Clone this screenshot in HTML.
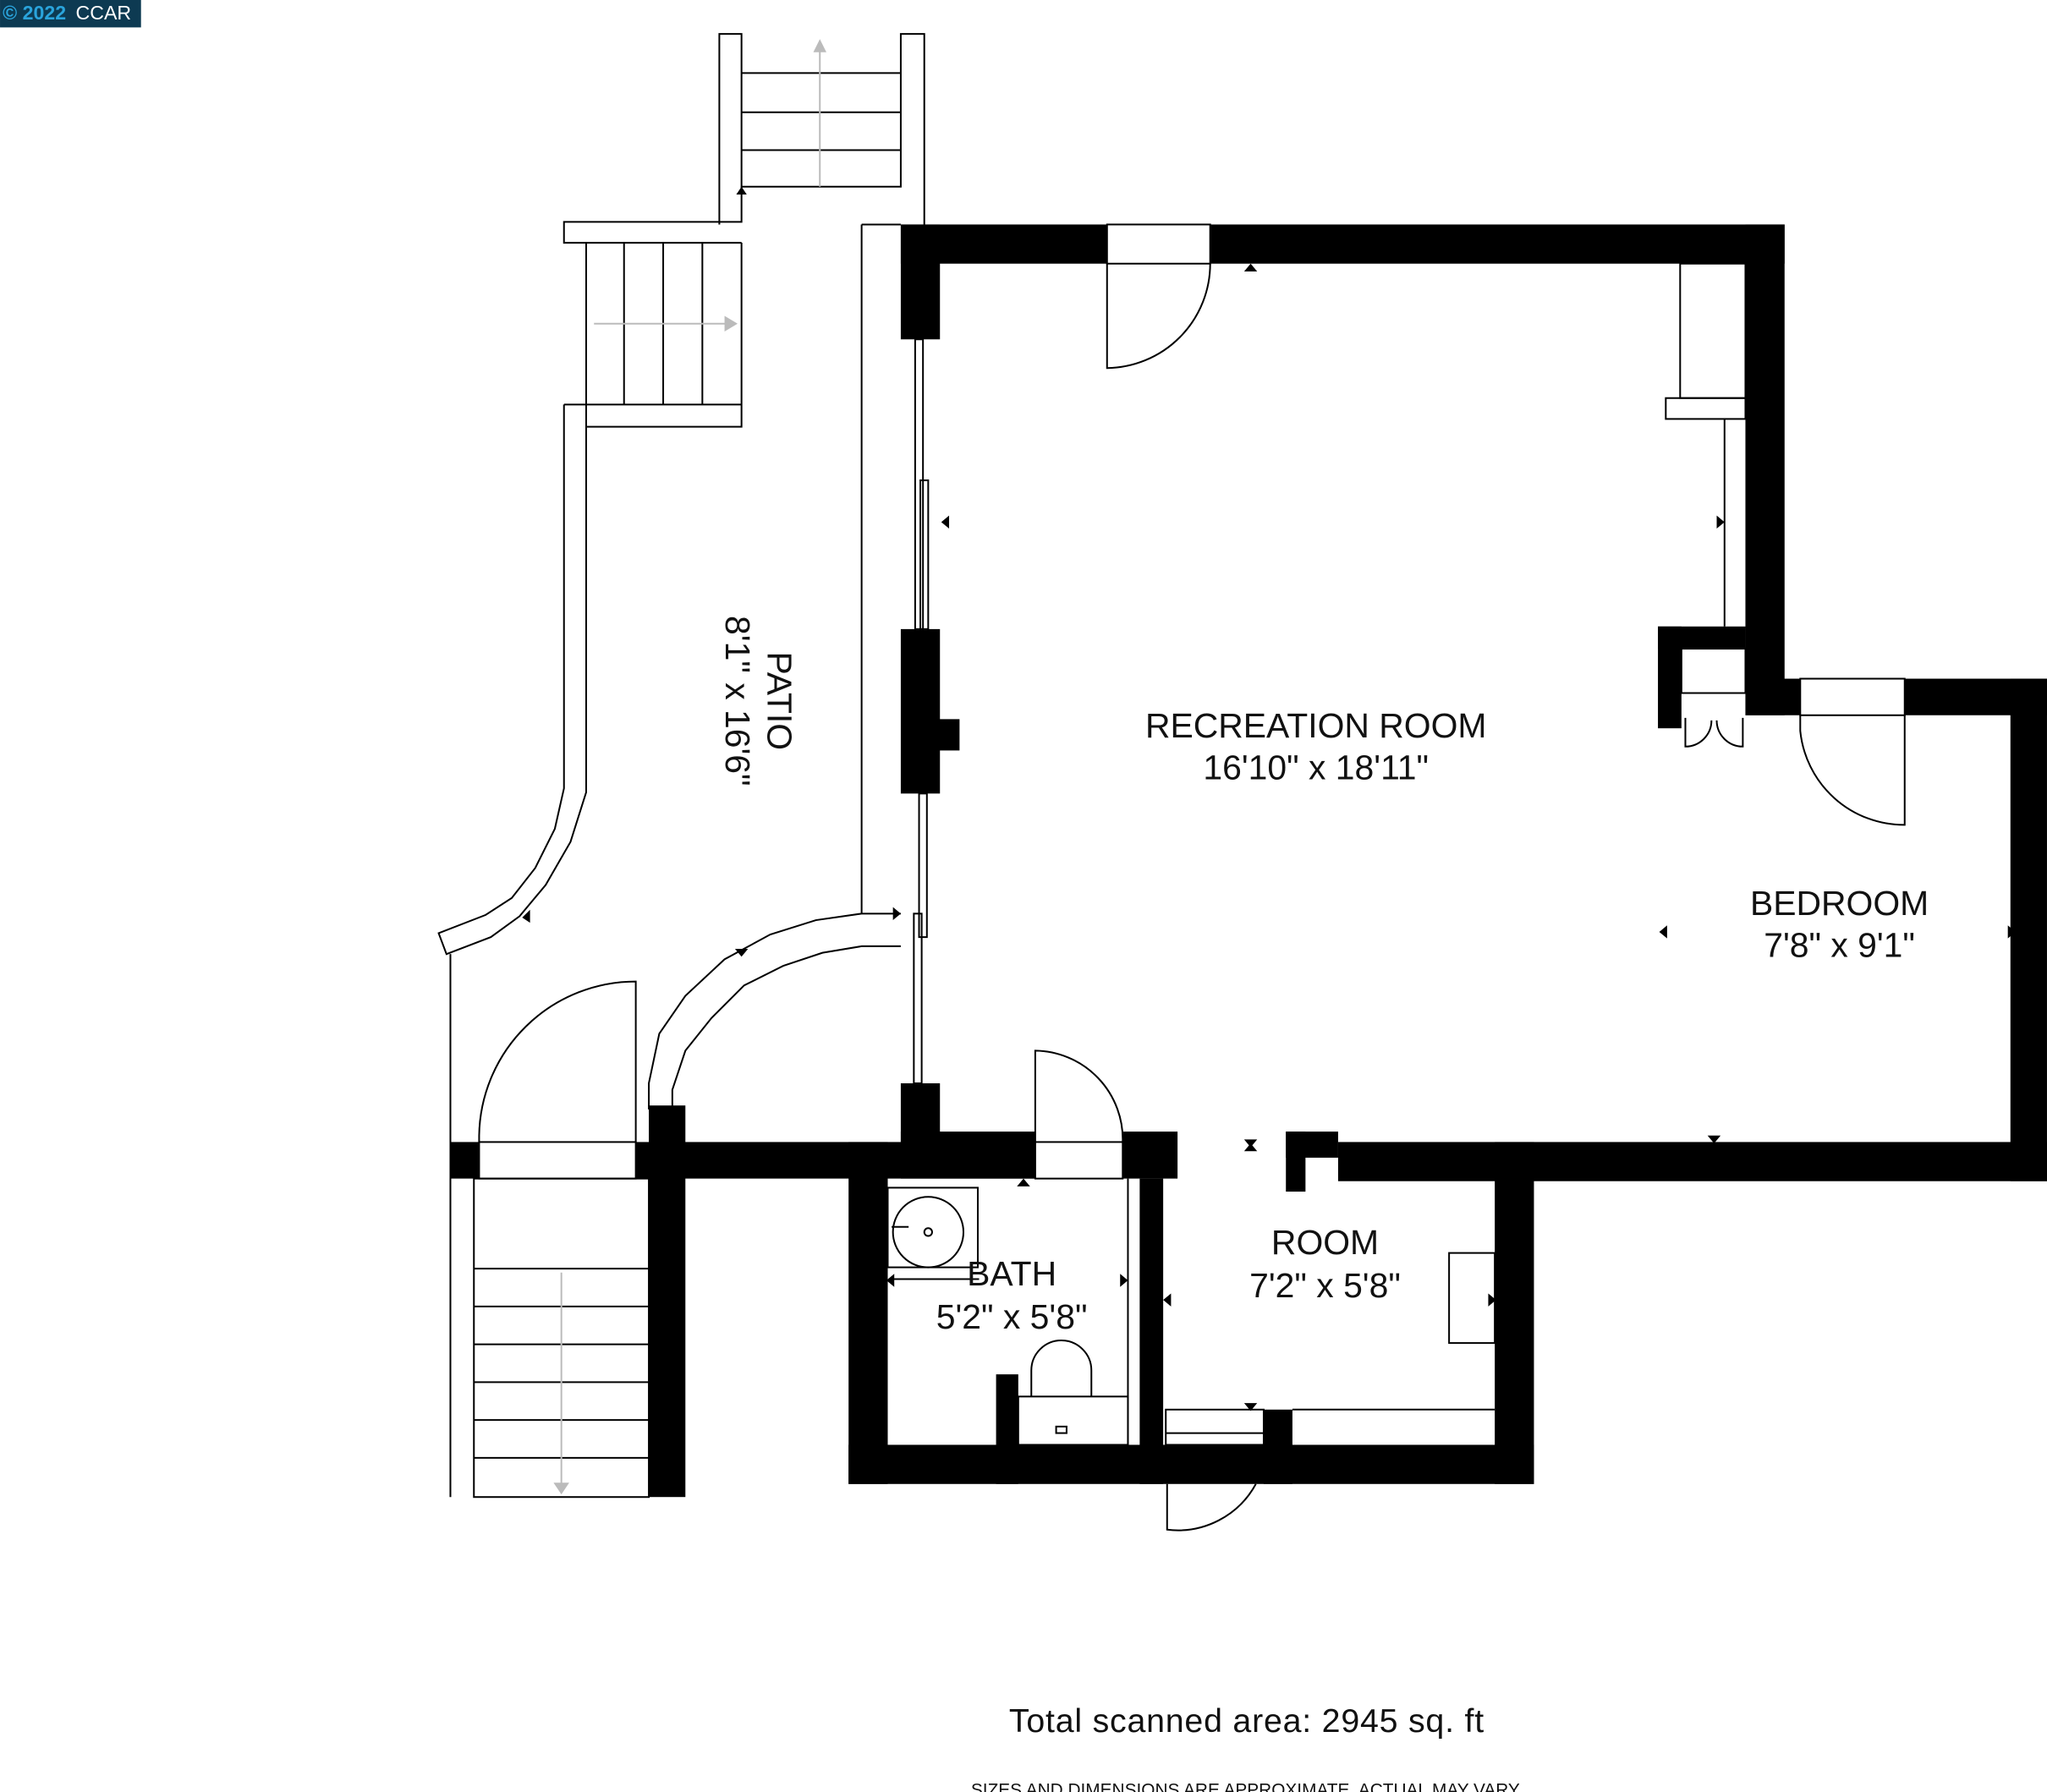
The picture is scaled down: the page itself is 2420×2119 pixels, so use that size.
<!DOCTYPE html>
<html><head><meta charset="utf-8"><style>
html,body{margin:0;padding:0;background:#fff;}
svg{display:block;}
</style></head><body>
<svg width="2420" height="2119" viewBox="0 0 1568 1373" xmlns="http://www.w3.org/2000/svg" font-family="Liberation Sans, sans-serif">
<rect width="1568" height="1373" fill="#fff"/>
<!-- badge -->
<rect x="0" y="0" width="108" height="21" fill="#0d3a52"/>
<text x="2" y="15" font-size="15" font-weight="bold" fill="#2aa4dc">© 2022</text>
<text x="58" y="15" font-size="15" fill="#fff">CCAR</text>

<g fill="#000">
<rect x="690" y="172" width="158" height="30"/><rect x="927" y="172" width="440" height="30"/>
<rect x="690" y="172" width="30" height="88"/>
<rect x="690" y="482" width="30" height="126"/><rect x="718" y="551" width="17" height="24"/>
<rect x="690" y="830" width="30" height="45"/>
<rect x="1337" y="172" width="30" height="376"/>
<rect x="1337" y="520" width="42" height="28"/><rect x="1459" y="520" width="109" height="28"/>
<rect x="1540" y="520" width="28" height="385"/>
<rect x="1025" y="875" width="543" height="30"/>
<rect x="985" y="867" width="40" height="20"/><rect x="985" y="867" width="15" height="46"/>
<rect x="1145" y="875" width="30" height="262"/>
<rect x="1270" y="480" width="67" height="17"/><rect x="1270" y="480" width="18" height="78"/>
<rect x="345" y="875" width="22" height="28"/>
<rect x="487" y="875" width="306" height="28"/>
<rect x="497" y="847" width="28" height="300"/>
<rect x="690" y="867" width="103" height="36"/>
<rect x="860" y="867" width="42" height="36"/>
<rect x="650" y="875" width="30" height="262"/>
<rect x="650" y="1107" width="525" height="30"/>
<rect x="873" y="903" width="18" height="234"/>
<rect x="763" y="1053" width="17" height="84"/>
<rect x="968" y="1080" width="22" height="57"/>
</g>

<g fill="none" stroke="#000" stroke-width="1.3">
<!-- top stairs -->
<polyline points="551,172 551,26 568,26 568,143 690,143 690,26 708,26 708,172"/>
<line x1="568" y1="56" x2="690" y2="56"/><line x1="568" y1="86" x2="690" y2="86"/><line x1="568" y1="115" x2="690" y2="115"/>
<line x1="628" y1="36" x2="628" y2="143" stroke="#bbb"/>
<!-- left small stairs -->
<polyline points="568,143 568,170 432,170 432,186 568,186"/>
<polyline points="568,186 568,327 449,327 449,186"/>
<line x1="478" y1="186" x2="478" y2="310"/><line x1="508" y1="186" x2="508" y2="310"/><line x1="538" y1="186" x2="538" y2="310"/>
<line x1="432" y1="310" x2="568" y2="310"/>
<line x1="455" y1="248" x2="560" y2="248" stroke="#bbb"/>
<!-- patio outer -->
<polyline points="432,310 432,604 425,635 410,665 392,688 372,701 336,715 342,731 376,718 398,702 418,678 437,645 449,607 449,327"/>
<line x1="345" y1="731" x2="345" y2="1147"/>
<line x1="660" y1="172" x2="660" y2="700"/><line x1="660" y1="172" x2="690" y2="172"/>
<polyline points="690,700 660,700 625,705 590,716 555,735 525,763 505,792 497,830 497,850"/>
<polyline points="690,725 660,725 630,730 600,740 570,755 545,780 525,805 515,835 515,850"/>
<!-- sliding windows -->
<rect x="701" y="260" width="6" height="222"/><rect x="705" y="368" width="6" height="114"/>
<rect x="704" y="608" width="6" height="110"/><rect x="700" y="700" width="6" height="130"/>
<!-- doors -->
<path d="M848,202 V282 A80,80 0 0 0 927,202"/><rect x="848" y="172" width="79" height="30" fill="#fff"/>
<rect x="1287" y="202" width="50" height="103"/><rect x="1276" y="305" width="61" height="16"/>
<line x1="1321" y1="321" x2="1321" y2="480"/>
<rect x="1288" y="497" width="49" height="34"/>
<path d="M1291,550 V572 A20,20 0 0 0 1311,552 M1335,550 V572 A20,20 0 0 1 1315,552"/>
<rect x="1379" y="520" width="80" height="28" fill="#fff"/>
<path d="M1379,548 V560 A80,80 0 0 0 1459,632 V548"/>
<path d="M367,875 V870 A120,120 0 0 1 487,752 V875"/>
<rect x="367" y="875" width="120" height="28" fill="#fff"/>
<path d="M793,875 V805 A68,68 0 0 1 860,875"/><rect x="793" y="875" width="67" height="28" fill="#fff"/>
<!-- bottom stairs -->
<rect x="363" y="903" width="134" height="244"/>
<line x1="363" y1="972" x2="497" y2="972"/><line x1="363" y1="1001" x2="497" y2="1001"/><line x1="363" y1="1030" x2="497" y2="1030"/><line x1="363" y1="1059" x2="497" y2="1059"/><line x1="363" y1="1088" x2="497" y2="1088"/><line x1="363" y1="1117" x2="497" y2="1117"/>
<line x1="430" y1="975" x2="430" y2="1140" stroke="#bbb"/>
<!-- bath fixtures -->
<rect x="680" y="910" width="69" height="61"/><circle cx="711" cy="944" r="27"/><circle cx="711" cy="944" r="3"/>
<line x1="683" y1="940" x2="696" y2="940"/>
<line x1="683" y1="980" x2="750" y2="980"/>
<path d="M790,1070 V1050 A23,23 0 0 1 836,1050 V1070"/><rect x="780" y="1070" width="84" height="37"/>
<rect x="809" y="1093" width="8" height="5"/>
<line x1="864" y1="903" x2="864" y2="1107"/>
<!-- room -->
<rect x="1110" y="960" width="35" height="69"/>
<line x1="990" y1="1080" x2="1145" y2="1080"/>
<rect x="893" y="1080" width="75" height="27"/>
<line x1="893" y1="1098" x2="968" y2="1098"/>
<path d="M894,1137 V1172 A68,68 0 0 0 962,1137"/>
</g>

<g fill="#000">
<polygon points="953,208 963,208 958,202"/><polygon points="727,395 727,405 721,400"/>
<polygon points="1315,395 1315,405 1321,400"/><polygon points="684,695 684,705 690,700"/>
<polygon points="563,727 573,727 568,733"/><polygon points="400,703 406,697 406,707"/>
<polygon points="1277,709 1277,719 1271,714"/><polygon points="1538,709 1538,719 1544,714"/>
<polygon points="1308,870 1318,870 1313,876"/><polygon points="953,873 963,873 958,879"/><polygon points="953,882 963,882 958,876"/>
<polygon points="779,909 789,909 784,903"/><polygon points="685,976 685,986 679,981"/><polygon points="858,976 858,986 864,981"/>
<polygon points="897,991 897,1001 891,996"/><polygon points="1140,991 1140,1001 1146,996"/><polygon points="953,1075 963,1075 958,1081"/>
<polygon points="564,149 572,149 568,143"/>
</g>
<polygon points="623,40 633,40 628,30" fill="#bbb"/><polygon points="555,242 555,254 565,248" fill="#bbb"/><polygon points="424,1136 436,1136 430,1145" fill="#bbb"/>

<g font-size="26.5" text-anchor="middle" fill="#111">
<text x="1008" y="565">RECREATION ROOM</text><text x="1008" y="597">16'10" x 18'11"</text>
<text x="1409" y="701">BEDROOM</text><text x="1409" y="733">7'8" x 9'1"</text>
<text x="1015" y="961">ROOM</text><text x="1015" y="994">7'2" x 5'8"</text>
<text x="775" y="985">BATH</text><text x="775" y="1018">5'2" x 5'8"</text>
<g transform="translate(576,537) rotate(90)"><text x="0" y="-12">PATIO</text><text x="0" y="20">8'1" x 16'6"</text></g>
<text x="955" y="1327" font-size="25.5" letter-spacing="0.5">Total scanned area: 2945 sq. ft</text>
<text x="955" y="1376" font-size="13.5">SIZES AND DIMENSIONS ARE APPROXIMATE, ACTUAL MAY VARY.</text>
</g>
</svg>
</body></html>
